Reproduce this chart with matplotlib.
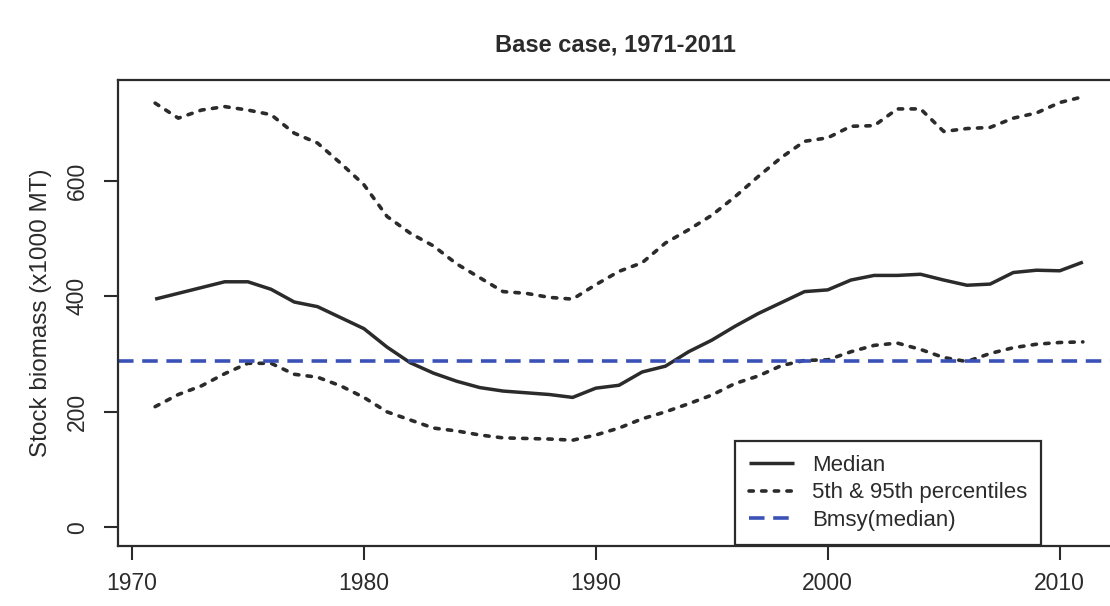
import matplotlib
matplotlib.use("Agg")
import matplotlib.pyplot as plt

# years and stock biomass (x1000 MT)
years = list(range(1971, 2012))
median = [395, 405, 415, 425, 425, 412, 390, 382, 363, 344,
          312, 285, 267, 253, 242, 236, 233, 230, 225, 241,
          246, 269, 279, 304, 324, 348, 370, 389, 408, 411,
          428, 436, 436, 438, 428, 419, 421, 441, 445, 444, 459]
p95 = [734, 708, 722, 728, 722, 714, 682, 665, 630, 593,
       538, 509, 487, 456, 432, 408, 405, 398, 395, 420,
       443, 458, 492, 515, 540, 572, 607, 640, 668, 674,
       694, 695, 724, 724, 685, 690, 692, 708, 717, 735, 745]
p5 = [209, 230, 245, 266, 284, 284, 265, 260, 245, 225,
      200, 186, 172, 167, 160, 155, 154, 153, 151, 160,
      172, 188, 200, 214, 229, 249, 262, 280, 289, 290,
      304, 315, 319, 308, 294, 287, 301, 311, 317, 320, 321]
bmsy = 288

xticks = [1970, 1980, 1990, 2000, 2010]
yticks = [0, 200, 400, 600]

plt.rcParams['font.family'] = ['Liberation Sans', 'DejaVu Sans']
dark = '#2b2b2b'
blue = '#3a52b8'

fig = plt.figure(figsize=(11.1, 6.06), dpi=100)
ax = fig.add_axes([118/1110, 60/606, 1002/1110, 466/606])

ax.plot(years, median, color=dark, lw=2.5, solid_capstyle='butt', label='Median')
ax.plot(years, p95, color=dark, lw=2.6, linestyle=(0, (1.2, 2.3)),
        dash_capstyle='round', label='5th & 95th percentiles')
ax.plot(years, p5, color=dark, lw=2.6, linestyle=(0, (1.2, 2.3)),
        dash_capstyle='round')
ax.axhline(bmsy, color=blue, lw=2.6, linestyle=(0, (4.3, 2.4)), label='Bmsy(median)')

ax.set_xlim(1969.4, 2012.6)
ax.set_ylim(-32, 774)
ax.set_xticks(xticks)
ax.set_yticks(yticks)
ax.set_yticklabels([str(v) for v in yticks], rotation=90, va='center')
ax.tick_params(axis='both', length=10, width=1.5, color=dark, labelsize=16.5,
               labelcolor=dark)
ax.tick_params(axis='x', pad=9)
ax.tick_params(axis='y', pad=11)
for s in ax.spines.values():
    s.set_color(dark)
    s.set_linewidth(1.6)

ax.set_ylabel('Stock biomass (x1000 MT)', fontsize=17.5, color=dark, labelpad=10)
fig.text(615/1110, 1 - 45/606, 'Base case, 1971-2011', ha='center', va='center',
         fontsize=17, fontweight='bold', color=dark)

leg = ax.legend(loc='lower left', bbox_to_anchor=(735/1110, 1 - 545/606),
                bbox_transform=fig.transFigure, fontsize=16, frameon=True,
                fancybox=False, edgecolor=dark, framealpha=1, borderaxespad=0,
                handlelength=2.0, handletextpad=0.8, labelspacing=0.28,
                borderpad=0.65)
leg.get_frame().set_linewidth(1.6)
for t in leg.get_texts():
    t.set_color(dark)

fig.savefig('out.png', dpi=100)
